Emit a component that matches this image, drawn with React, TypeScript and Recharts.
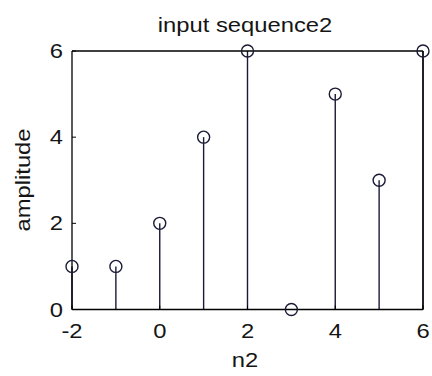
import React from 'react';
import { ComposedChart, Scatter, XAxis, YAxis, ErrorBar, Label } from 'recharts';

const nValues = [-2, -1, 0, 1, 2, 3, 4, 5, 6];
const amplitudes = [1, 1, 2, 4, 6, 0, 5, 3, 6];
const xTicks = [-2, 0, 2, 4, 6];
const yTicks = [0, 2, 4, 6];
const titleText = 'input sequence2';
const xLabelText = 'n2';
const yLabelText = 'amplitude';

const data = nValues.map((n, i) => ({ n, a: amplitudes[i], stem: [amplitudes[i], 0] }));

const FONT = 'Liberation Sans, Arial, sans-serif';
const FS = 19.5;
const SX = 1.22;
const INK = '#151515';
const STEM = '#1a1a36';

const BottomTick = (props: any) => {
  const { x, y, payload } = props;
  return (
    <g>
      <line x1={x} x2={x} y1={y} y2={y - 4} stroke="#000" />
      <text transform={`translate(${x},${y + 28.5}) scale(${SX},1)`} textAnchor="middle" fontSize={FS} fontFamily={FONT} fill={INK}>
        {payload.value}
      </text>
    </g>
  );
};

const TopTick = (props: any) => {
  const { x, y } = props;
  return <line x1={x} x2={x} y1={y} y2={y + 4} stroke="#000" />;
};

const LeftTick = (props: any) => {
  const { x, y, payload } = props;
  return (
    <g>
      <line x1={x} x2={x + 4} y1={y} y2={y} stroke="#000" />
      <text transform={`translate(${x - 9},${y + 7}) scale(${SX},1)`} textAnchor="end" fontSize={FS} fontFamily={FONT} fill={INK}>
        {payload.value}
      </text>
    </g>
  );
};

const RightTick = (props: any) => {
  const { x, y } = props;
  return <line x1={x} x2={x - 4} y1={y} y2={y} stroke="#000" />;
};

const Marker = (props: any) => {
  const { cx, cy } = props;
  return <circle cx={cx} cy={cy} r={6} fill="none" stroke={STEM} strokeWidth={1.4} />;
};

const axisStyle = { stroke: '#000', strokeWidth: 1.3 };

export default function App() {
  return (
    <div style={{ position: 'absolute', left: 0, top: 0, background: '#fff' }}>
      <ComposedChart width={432} height={376} margin={{ top: 50, right: 8, bottom: 65.5, left: 71 }}>
        <XAxis
          xAxisId="b"
          type="number"
          dataKey="n"
          domain={[-2, 6]}
          ticks={xTicks}
          interval={0}
          height={1}
          tickLine={false}
          tickSize={0}
          tickMargin={0}
          axisLine={axisStyle}
          tick={BottomTick}
        >
          <Label
            content={() => (
              <text transform={`translate(245,367) scale(${SX},1)`} textAnchor="middle" fontSize={FS} fontFamily={FONT} fill={INK}>
                {xLabelText}
              </text>
            )}
          />
        </XAxis>
        <XAxis
          xAxisId="t"
          orientation="top"
          type="number"
          domain={[-2, 6]}
          ticks={xTicks}
          interval={0}
          height={1}
          tickLine={false}
          tickSize={0}
          tickMargin={0}
          axisLine={axisStyle}
          tick={TopTick}
        >
          <Label
            content={() => (
              <text transform={`translate(245,32) scale(${SX},1)`} textAnchor="middle" fontSize={FS} fontFamily={FONT} fill={INK}>
                {titleText}
              </text>
            )}
          />
        </XAxis>
        <YAxis
          yAxisId="l"
          type="number"
          dataKey="a"
          domain={[0, 6]}
          ticks={yTicks}
          interval={0}
          width={1}
          tickLine={false}
          tickSize={0}
          tickMargin={0}
          axisLine={axisStyle}
          tick={LeftTick}
        >
          <Label
            content={() => (
              <text transform={`translate(30,180) rotate(-90) scale(${SX},1)`} textAnchor="middle" fontSize={FS} fontFamily={FONT} fill={INK}>
                {yLabelText}
              </text>
            )}
          />
        </YAxis>
        <YAxis
          yAxisId="r"
          orientation="right"
          type="number"
          domain={[0, 6]}
          ticks={yTicks}
          interval={0}
          width={1}
          tickLine={false}
          tickSize={0}
          tickMargin={0}
          axisLine={axisStyle}
          tick={RightTick}
        />
        <Scatter xAxisId="b" yAxisId="l" data={data} dataKey="a" shape={Marker} isAnimationActive={false}>
          <ErrorBar dataKey="stem" direction="y" width={0} stroke={STEM} strokeWidth={1.4} isAnimationActive={false} />
        </Scatter>
      </ComposedChart>
    </div>
  );
}
